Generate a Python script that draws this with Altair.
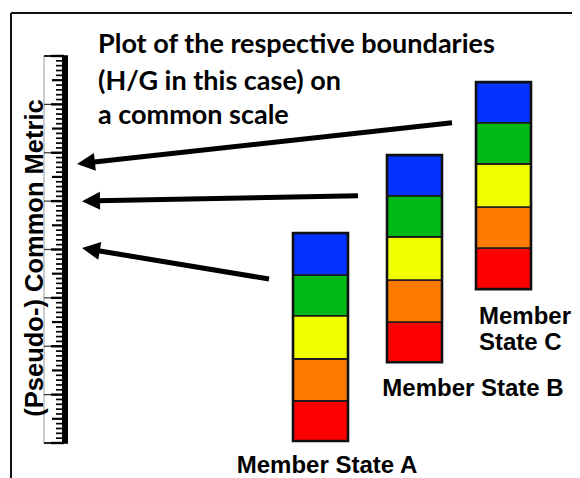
import math
import altair as alt
import numpy as np
import pandas as pd

# ---------------- data ----------------
classes = ["Bad", "Poor", "Moderate", "Good", "High"]
class_colors = ["#FF0000", "#FF7B00", "#F2FF00", "#00B816", "#0433FF"]
states = ["Member State A", "Member State B", "Member State C"]
# class boundaries of each member state, bottom to top, on the (pseudo-) common metric
boundaries_A = [0.04, 0.87, 1.74, 2.63, 3.47, 4.34]
boundaries_B = [1.67, 2.50, 3.37, 4.26, 5.11, 5.95]
boundaries_C = [3.18, 4.03, 4.88, 5.77, 6.62, 7.46]
# H/G boundary: where each arrow leaves the bar, and where it lands on the common scale
arrow_from = [3.39, 5.11, 6.62]
arrow_to = [4.03, 5.00, 5.77]
ruler_min, ruler_max, ruler_minor = 0, 8, 0.1
title_lines = ["Plot of the respective boundaries", "(H/G in this case) on", "a common scale"]
axis_label = "(Pseudo-) Common Metric"

# ---------------- layout (reference pixels) ----------------
W, H, M = 564, 470, 8
Y0_PX, UNIT_PX = 443.0, 48.375          # pixel of metric 0, pixels per metric unit
def to_metric(py):
    return (Y0_PX - py) / UNIT_PX
def to_px(v):
    return Y0_PX - v * UNIT_PX

bar_left = [293, 387, 476]
bar_w = 55
arrow_start_x = [269, 358, 452]
arrow_tip_x = [82, 82, 77]

xs = alt.Scale(domain=[M, M + W], nice=False, zero=False)
ys = alt.Scale(domain=[to_metric(M + H), to_metric(M)], nice=False, zero=False)

# bar segments
rows = []
for s, b, xl in zip(states, [boundaries_A, boundaries_B, boundaries_C], bar_left):
    for i, c in enumerate(classes):
        rows.append(dict(state=s, cls=c, x=xl, x2=xl + bar_w, y=b[i], y2=b[i + 1]))
seg = pd.DataFrame(rows)
outer = pd.DataFrame([dict(x=xl, x2=xl + bar_w, y=b[0], y2=b[-1])
                      for b, xl in zip([boundaries_A, boundaries_B, boundaries_C], bar_left)])

segments = alt.Chart(seg).mark_rect(stroke="#1a1a1a", strokeWidth=1.6).encode(
    x=alt.X("x:Q", scale=xs, axis=None), x2="x2:Q",
    y=alt.Y("y:Q", scale=ys, axis=None), y2="y2:Q",
    color=alt.Color("cls:N", scale=alt.Scale(domain=classes, range=class_colors), legend=None),
)
outlines = alt.Chart(outer).mark_rect(fillOpacity=0, stroke="#111", strokeWidth=2.6).encode(
    x="x:Q", x2="x2:Q", y="y:Q", y2="y2:Q"
)

# ruler
n = int(round((ruler_max - ruler_min) / ruler_minor))
major, mid, minor = [], [], []
for k in range(n + 1):
    v = round(ruler_min + k * ruler_minor, 3)
    if k % 10 == 0:
        major.append(dict(v=v, x=44, x2=64))
    elif k % 5 == 0:
        mid.append(dict(v=v, x=52, x2=64))
    else:
        minor.append(dict(v=v, x=56, x2=64))
def tick_layer(rows_, w, c="black"):
    return alt.Chart(pd.DataFrame(rows_)).mark_rule(color=c, strokeWidth=w).encode(
        x="x:Q", x2="x2:Q", y="v:Q")
ticks_major = tick_layer(major, 1.2, "#333")
ticks_major2 = tick_layer([dict(v=r["v"], x=51, x2=64) for r in major], 2.4)
ticks_mid = tick_layer(mid, 2.2)
ticks_minor = tick_layer(minor, 1.7)

ruler_left = alt.Chart(pd.DataFrame([dict(x=44, y=ruler_min, y2=ruler_max)])).mark_rule(
    color="#999", strokeWidth=1).encode(x="x:Q", y="y:Q", y2="y2:Q")
ruler_band = alt.Chart(pd.DataFrame([dict(x=62, x2=68, y=ruler_min, y2=ruler_max)])).mark_rect(
    color="black").encode(x="x:Q", x2="x2:Q", y="y:Q", y2="y2:Q")
ruler_ends = alt.Chart(pd.DataFrame([dict(x=44, x2=68, y=ruler_min), dict(x=44, x2=68, y=ruler_max)])).mark_rule(
    color="black", strokeWidth=1.5).encode(x="x:Q", x2="x2:Q", y="y:Q")

# arrows
arows = []
for sx, sv, tx, tv in zip(arrow_start_x, arrow_from, arrow_tip_x, arrow_to):
    sy, ty = to_px(sv), to_px(tv)
    dx, dy = tx - sx, ty - sy
    L = math.hypot(dx, dy)
    ux, uy = dx / L, dy / L
    ex, ey = tx - 15 * ux, ty - 15 * uy
    ang = math.degrees(math.atan2(dy, dx)) % 360
    arows.append(dict(sx=sx, sy=sv, ex=ex, ey=to_metric(ey), tx=tx, ty=tv, angle=ang))
arr = pd.DataFrame(arows)
shafts = alt.Chart(arr).mark_rule(color="black", strokeWidth=5, strokeCap="butt").encode(
    x="sx:Q", y="sy:Q", x2="ex:Q", y2="ey:Q")
heads = [
    alt.Chart(arr.iloc[[i]]).mark_point(shape="M0,0L-1.8,-0.9L-1.8,0.9Z", filled=True, color="black",
                                        opacity=1, size=400, strokeWidth=0,
                                        angle=float(arr.angle.iloc[i])).encode(x="tx:Q", y="ty:Q")
    for i in range(len(arr))
]

# slide frame
frame_top = alt.Chart(pd.DataFrame([dict(x=11, x2=M + W, y=to_metric(13))])).mark_rule(
    color="#111", strokeWidth=2).encode(x="x:Q", x2="x2:Q", y="y:Q")
frame_left = alt.Chart(pd.DataFrame([dict(x=11, y=to_metric(13), y2=to_metric(M + H))])).mark_rule(
    color="#111", strokeWidth=2).encode(x="x:Q", y="y:Q", y2="y2:Q")

# texts
title_df = pd.DataFrame([dict(t=t, x=98, y=to_metric(b)) for t, b in zip(title_lines, [53, 90, 124])])
title = alt.Chart(title_df).mark_text(align="left", baseline="alphabetic", font="Lato", fontWeight="bold",
                                      fontSize=27, color="black").encode(x="x:Q", y="y:Q", text="t:N")
lab_df = pd.DataFrame([
    dict(t=states[0], x=327, y=to_metric(473)),
    dict(t=states[1], x=473, y=to_metric(396)),
])
labels = alt.Chart(lab_df).mark_text(align="center", baseline="alphabetic", font="Liberation Sans",
                                     fontWeight="bold", fontSize=24, color="black").encode(
    x="x:Q", y="y:Q", text="t:N")
c_words = states[2].split(" ", 1)
labc_df = pd.DataFrame([dict(t=c_words[0], x=479, y=to_metric(324)), dict(t=c_words[1], x=479, y=to_metric(350))])
labels_c = alt.Chart(labc_df).mark_text(align="left", baseline="alphabetic", font="Liberation Sans",
                                        fontWeight="bold", fontSize=24, color="black").encode(
    x="x:Q", y="y:Q", text="t:N")
ylab = alt.Chart(pd.DataFrame([dict(t=axis_label, x=43, y=to_metric(258))])).mark_text(
    align="center", baseline="alphabetic", angle=270, font="Liberation Sans", fontWeight="bold",
    fontSize=25.5, color="black").encode(x="x:Q", y="y:Q", text="t:N")

chart = alt.layer(
    segments, frame_top, frame_left, ruler_left, ticks_minor, ticks_mid, ticks_major, ticks_major2,
    ruler_band, ruler_ends, outlines, shafts, *heads, title, labels, labels_c, ylab
).properties(width=W, height=H, autosize=alt.AutoSizeParams(type="none"), padding=0,
             background="white").configure_view(strokeWidth=0)

chart.save("out.html", embed_options={"renderer": "svg", "actions": False})
